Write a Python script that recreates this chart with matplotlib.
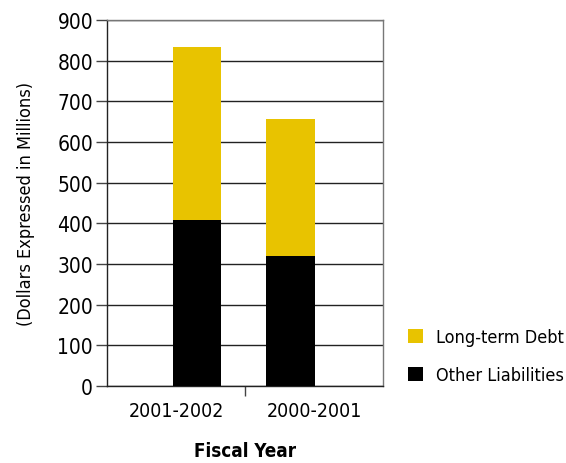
import matplotlib
matplotlib.use("Agg")
import matplotlib.pyplot as plt
import numpy as np
from matplotlib.patches import Patch

categories = ["2001-2002", "2000-2001"]
other_liabilities = [408, 320]
long_term_debt = [426, 337]
bar_offsets = [0.15, -0.17]   # bars are not centered in their category slots
yticks = [0, 100, 200, 300, 400, 500, 600, 700, 800, 900]

YELLOW = "#E8C300"
plt.rcParams["font.family"] = ["DejaVu Sans"]
plt.rcParams["font.stretch"] = "condensed"

fig = plt.figure(figsize=(5.66, 4.64), dpi=100)
ax = fig.add_axes([107/566, 1-387/464, (383-107)/566, (387-21)/464])

n = len(categories)
centers = np.arange(n) + 0.5
pos = centers + np.array(bar_offsets)
w = 0.35
ax.bar(pos, other_liabilities, width=w, color="black", zorder=3)
ax.bar(pos, long_term_debt, width=w, bottom=other_liabilities, color=YELLOW, zorder=3)

ax.set_xlim(0, n)
ax.set_ylim(0, 900)
ax.set_yticks(yticks)
ax.set_yticklabels([str(v) for v in yticks], fontsize=15)
ax.yaxis.grid(True, color="#222222", linewidth=1.0, zorder=0)
ax.tick_params(axis="y", length=8, width=1, color="#444444", pad=2)

ax.set_xticks(np.arange(1, n))
ax.set_xticklabels([])
ax.tick_params(axis="x", which="major", length=7, width=1, color="#444444")
ax.set_xticks(centers, minor=True)
ax.set_xticklabels(categories, minor=True, fontsize=14)
ax.tick_params(axis="x", which="minor", length=0, pad=11)

for s in ["left", "bottom"]:
    ax.spines[s].set_color("#222222")
    ax.spines[s].set_linewidth(1.0)
for s in ["right", "top"]:
    ax.spines[s].set_color("#777777")
    ax.spines[s].set_linewidth(1.0)

ax.set_xlabel("Fiscal Year", fontsize=13.5, fontweight="bold", labelpad=15)
ax.set_ylabel("(Dollars Expressed in Millions)", fontsize=13, labelpad=16)

handles = [Patch(facecolor=YELLOW, edgecolor="none"), Patch(facecolor="black", edgecolor="none")]
fig.legend(handles, ["Long-term Debt", "Other Liabilities"], loc="center left",
           bbox_to_anchor=(392/566, 1-357/464), frameon=False, fontsize=13,
           handlelength=0.8, handleheight=0.8, handletextpad=0.75, labelspacing=1.1)

fig.savefig("out.png", dpi=100)
